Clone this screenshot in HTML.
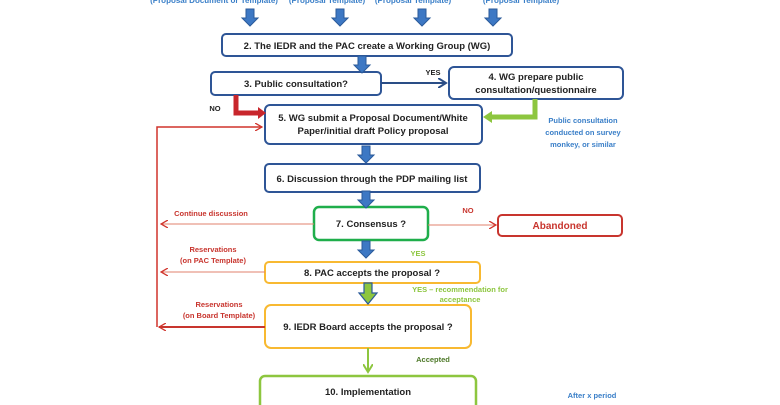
<!DOCTYPE html>
<html><head><meta charset="utf-8"><style>
body{margin:0;background:#fff;}
svg{display:block;font-family:"Liberation Sans",sans-serif;font-weight:bold;}
</style></head><body>
<svg width="780" height="405" viewBox="0 0 780 405" xmlns="http://www.w3.org/2000/svg">
<defs>
<marker id="rh" markerWidth="8" markerHeight="8" refX="7" refY="4" orient="auto" markerUnits="userSpaceOnUse"><path d="M0,0 L7,4 L0,8" fill="none" stroke="#d0342c" stroke-width="1.3"/></marker>
<marker id="bh" markerWidth="10" markerHeight="10" refX="8" refY="5" orient="auto" markerUnits="userSpaceOnUse"><path d="M0,0 L8,5 L0,10" fill="none" stroke="#2a4d86" stroke-width="2"/></marker>
<marker id="gh" markerWidth="10" markerHeight="10" refX="8" refY="5" orient="auto" markerUnits="userSpaceOnUse"><path d="M0,0 L8,5 L0,10" fill="none" stroke="#8dc63f" stroke-width="2"/></marker>
<g id="da"><path d="M-4,0 h8 v9 h4 l-8,8 l-8,-8 h4z" fill="#3d78c4" stroke="#2a5a9a" stroke-width="1"/></g>
</defs>
<g font-size="8" fill="#3a7fc8" text-anchor="middle">
<text x="214" y="3">(Proposal Document or Template)</text>
<text x="327" y="3">(Proposal Template)</text>
<text x="413" y="3">(Proposal Template)</text>
<text x="521" y="3">(Proposal Template)</text>
</g>
<use href="#da" x="250" y="9"/><use href="#da" x="340" y="9"/><use href="#da" x="422" y="9"/><use href="#da" x="493" y="9"/>
<g fill="#fff" stroke-width="2">
<rect x="222" y="34" width="290" height="22" rx="4" stroke="#2e5596"/>
<rect x="211" y="72" width="170" height="23" rx="4" stroke="#2e5596"/>
<rect x="449" y="67" width="174" height="32" rx="5" stroke="#2e5596"/>
<rect x="265" y="105" width="217" height="39" rx="5" stroke="#2e5596"/>
<rect x="265" y="164" width="215" height="28" rx="4" stroke="#2e5596"/>
<rect x="314" y="207" width="114" height="33" rx="5" stroke="#1fae4b" stroke-width="2.5"/>
<rect x="498" y="215" width="124" height="21" rx="4" stroke="#c8352e"/>
<rect x="265" y="262" width="215" height="21" rx="4" stroke="#f8b931"/>
<rect x="265" y="305" width="206" height="43" rx="6" stroke="#f8b931"/>
<rect x="260" y="376" width="216" height="40" rx="5" stroke="#8dc63f" stroke-width="2.5"/>
</g>
<use href="#da" x="362" y="56"/>
<use href="#da" x="366" y="146"/>
<use href="#da" x="366" y="191"/>
<use href="#da" x="366" y="241"/>
<path d="M364,283 h8 v10 h5 l-9,11 l-9,-11 h5z" fill="#8dc63f" stroke="#2a5a9a" stroke-width="1.2"/>
<line x1="381" y1="83" x2="446" y2="83" stroke="#2a4d86" stroke-width="2" marker-end="url(#bh)"/>
<path d="M236,95 v18 h24" fill="none" stroke="#c8262c" stroke-width="5"/>
<path d="M258,107 l8,6 l-8,6z" fill="#c8262c"/>
<path d="M535,99 v18 h-44" fill="none" stroke="#8dc63f" stroke-width="5"/>
<path d="M492,111 l-9,6 l9,6z" fill="#8dc63f"/>
<path d="M157,327 V127 H262" fill="none" stroke="#d0342c" stroke-width="1.5" marker-end="url(#rh)"/>
<line x1="265" y1="327" x2="159" y2="327" stroke="#c8352e" stroke-width="2" marker-end="url(#rh)"/>
<line x1="314" y1="224" x2="161" y2="224" stroke="#e2806d" stroke-width="1" marker-end="url(#rh)"/>
<line x1="265" y1="272" x2="161" y2="272" stroke="#e2806d" stroke-width="1" marker-end="url(#rh)"/>
<line x1="428" y1="225" x2="496" y2="225" stroke="#e2806d" stroke-width="1" marker-end="url(#rh)"/>
<line x1="368" y1="348" x2="368" y2="372" stroke="#8dc63f" stroke-width="2" marker-end="url(#gh)"/>
<g font-size="9.5" fill="#222" text-anchor="middle">
<text x="367" y="49">2. The IEDR and the PAC create a Working Group (WG)</text>
<text x="296" y="87">3. Public consultation?</text>
<text x="536" y="80">4. WG prepare public</text>
<text x="536" y="93">consultation/questionnaire</text>
<text x="373" y="121">5. WG submit a Proposal Document/White</text>
<text x="373" y="134">Paper/initial draft Policy proposal</text>
<text x="372" y="182">6. Discussion through the PDP mailing list</text>
<text x="371" y="227">7. Consensus ?</text>
<text x="372" y="276">8. PAC accepts the proposal ?</text>
<text x="368" y="330">9. IEDR Board accepts the proposal ?</text>
<text x="368" y="395">10. Implementation</text>
</g>
<text x="560" y="229" font-size="10" fill="#c8352e" text-anchor="middle">Abandoned</text>
<g font-size="7.5" text-anchor="middle">
<text x="433" y="75" fill="#222">YES</text>
<text x="215" y="111" fill="#222">NO</text>
<text x="468" y="213" fill="#c8352e">NO</text>
<text x="211" y="216" fill="#c8352e">Continue discussion</text>
<text x="213" y="252" fill="#c8352e">Reservations</text>
<text x="213" y="263" fill="#c8352e">(on PAC Template)</text>
<text x="219" y="307" fill="#c8352e">Reservations</text>
<text x="219" y="318" fill="#c8352e">(on Board Template)</text>
<text x="418" y="256" fill="#8dc63f">YES</text>
<text x="460" y="292" fill="#8dc63f">YES – recommendation for</text>
<text x="460" y="302" fill="#8dc63f">acceptance</text>
<text x="433" y="362" fill="#4f7a2a">Accepted</text>
<text x="583" y="123" fill="#3a7fc8">Public consultation</text>
<text x="583" y="135" fill="#3a7fc8">conducted on survey</text>
<text x="583" y="147" fill="#3a7fc8">monkey, or similar</text>
<text x="592" y="398" fill="#3a7fc8">After  x period</text>
</g>
</svg>
</body></html>
